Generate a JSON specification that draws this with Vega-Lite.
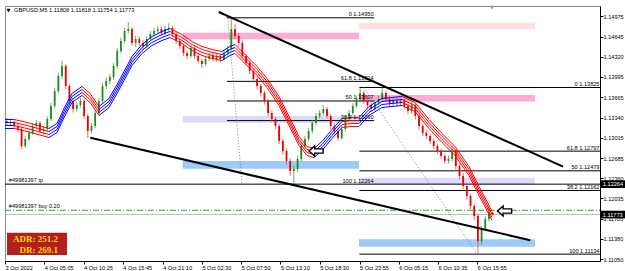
{
  "$schema": "https://vega.github.io/schema/vega-lite/v6.json",
  "width": 595,
  "height": 255,
  "padding": {"left": 3, "top": 5, "right": 0, "bottom": 0},
  "autosize": {"type": "pad"},
  "background": "white",
  "config": {"view": {"stroke": "#888888", "strokeWidth": 1}},
  "datasets": {
    "candles": [
      {"t":24,"o":1.1328,"h":1.1333,"l":1.132,"c":1.13252},
      {"t":24.5,"o":1.13252,"h":1.1332,"l":1.1321,"c":1.13268},
      {"t":25,"o":1.13268,"h":1.133,"l":1.1316,"c":1.13203},
      {"t":25.5,"o":1.13203,"h":1.1324,"l":1.131,"c":1.13155},
      {"t":26,"o":1.13155,"h":1.1319,"l":1.12832,"c":1.1288},
      {"t":26.5,"o":1.1288,"h":1.1304,"l":1.1285,"c":1.12993},
      {"t":27,"o":1.12993,"h":1.1313,"l":1.1296,"c":1.1309},
      {"t":27.5,"o":1.1309,"h":1.1325,"l":1.1306,"c":1.13203},
      {"t":28,"o":1.13203,"h":1.133,"l":1.1317,"c":1.13252},
      {"t":28.5,"o":1.13252,"h":1.1328,"l":1.1308,"c":1.13123},
      {"t":29,"o":1.13123,"h":1.132,"l":1.1306,"c":1.13155},
      {"t":29.5,"o":1.13155,"h":1.1336,"l":1.1312,"c":1.13316},
      {"t":30,"o":1.13316,"h":1.1358,"l":1.1328,"c":1.13526},
      {"t":30.5,"o":1.13526,"h":1.1382,"l":1.1349,"c":1.13769},
      {"t":31,"o":1.13769,"h":1.1406,"l":1.1373,"c":1.14011},
      {"t":31.5,"o":1.14011,"h":1.14253,"l":1.1396,"c":1.14172},
      {"t":32,"o":1.14172,"h":1.142,"l":1.138,"c":1.13849},
      {"t":32.5,"o":1.13849,"h":1.1388,"l":1.1356,"c":1.13607},
      {"t":33,"o":1.13607,"h":1.1365,"l":1.1342,"c":1.13478},
      {"t":33.5,"o":1.13478,"h":1.136,"l":1.1344,"c":1.13542},
      {"t":34,"o":1.13542,"h":1.1366,"l":1.135,"c":1.13607},
      {"t":34.5,"o":1.13607,"h":1.1364,"l":1.1332,"c":1.13365},
      {"t":35,"o":1.13365,"h":1.134,"l":1.13009,"c":1.13123},
      {"t":35.5,"o":1.13123,"h":1.1325,"l":1.1308,"c":1.13203},
      {"t":36,"o":1.13203,"h":1.1346,"l":1.1317,"c":1.13413},
      {"t":36.5,"o":1.13413,"h":1.1365,"l":1.1338,"c":1.13607},
      {"t":37,"o":1.13607,"h":1.139,"l":1.1357,"c":1.13849},
      {"t":37.5,"o":1.13849,"h":1.1399,"l":1.138,"c":1.1393},
      {"t":38,"o":1.1393,"h":1.1404,"l":1.1388,"c":1.13995},
      {"t":38.5,"o":1.13995,"h":1.1422,"l":1.1395,"c":1.14172},
      {"t":39,"o":1.14172,"h":1.1446,"l":1.1413,"c":1.14415},
      {"t":39.5,"o":1.14415,"h":1.1463,"l":1.1438,"c":1.14576},
      {"t":40,"o":1.14576,"h":1.1479,"l":1.1454,"c":1.14738},
      {"t":40.5,"o":1.14738,"h":1.14883,"l":1.147,"c":1.1477},
      {"t":41,"o":1.1477,"h":1.148,"l":1.145,"c":1.14544},
      {"t":41.5,"o":1.14544,"h":1.1466,"l":1.1448,"c":1.14608},
      {"t":42,"o":1.14608,"h":1.1465,"l":1.1449,"c":1.14544},
      {"t":42.5,"o":1.14544,"h":1.1459,"l":1.1444,"c":1.14495},
      {"t":43,"o":1.14495,"h":1.1465,"l":1.1446,"c":1.14608},
      {"t":43.5,"o":1.14608,"h":1.1474,"l":1.1457,"c":1.14689},
      {"t":44,"o":1.14689,"h":1.1479,"l":1.1465,"c":1.14738},
      {"t":44.5,"o":1.14738,"h":1.1482,"l":1.147,"c":1.1477},
      {"t":45,"o":1.1477,"h":1.1481,"l":1.1466,"c":1.14705},
      {"t":45.5,"o":1.14705,"h":1.1482,"l":1.1467,"c":1.1477},
      {"t":46,"o":1.1477,"h":1.14867,"l":1.1473,"c":1.14786},
      {"t":46.5,"o":1.14786,"h":1.1482,"l":1.1464,"c":1.14689},
      {"t":47,"o":1.14689,"h":1.1472,"l":1.1453,"c":1.14576},
      {"t":47.5,"o":1.14576,"h":1.1461,"l":1.1445,"c":1.14495},
      {"t":48,"o":1.14495,"h":1.1453,"l":1.1433,"c":1.14382},
      {"t":48.5,"o":1.14382,"h":1.1442,"l":1.1428,"c":1.14334},
      {"t":49,"o":1.14334,"h":1.1451,"l":1.143,"c":1.14463},
      {"t":49.5,"o":1.14463,"h":1.1449,"l":1.1429,"c":1.14334},
      {"t":50,"o":1.14334,"h":1.1437,"l":1.1421,"c":1.14253},
      {"t":50.5,"o":1.14253,"h":1.1429,"l":1.1414,"c":1.14205},
      {"t":51,"o":1.14205,"h":1.1433,"l":1.1417,"c":1.14285},
      {"t":51.5,"o":1.14285,"h":1.1438,"l":1.1425,"c":1.14334},
      {"t":52,"o":1.14334,"h":1.1437,"l":1.1424,"c":1.14285},
      {"t":52.5,"o":1.14285,"h":1.1438,"l":1.1424,"c":1.14334},
      {"t":53,"o":1.14334,"h":1.1437,"l":1.1423,"c":1.14285},
      {"t":53.5,"o":1.14285,"h":1.1443,"l":1.1425,"c":1.14382},
      {"t":54,"o":1.14382,"h":1.145,"l":1.1434,"c":1.14447},
      {"t":54.5,"o":1.14447,"h":1.1495,"l":1.1442,"c":1.1477},
      {"t":55,"o":1.1477,"h":1.1485,"l":1.146,"c":1.14657},
      {"t":55.5,"o":1.14657,"h":1.147,"l":1.1449,"c":1.14544},
      {"t":56,"o":1.14544,"h":1.1459,"l":1.1428,"c":1.14334},
      {"t":56.5,"o":1.14334,"h":1.1437,"l":1.1417,"c":1.14221},
      {"t":57,"o":1.14221,"h":1.1426,"l":1.1404,"c":1.14092},
      {"t":57.5,"o":1.14092,"h":1.1413,"l":1.1391,"c":1.13962},
      {"t":58,"o":1.13962,"h":1.14,"l":1.1379,"c":1.13849},
      {"t":58.5,"o":1.13849,"h":1.1388,"l":1.1368,"c":1.13736},
      {"t":59,"o":1.13736,"h":1.1377,"l":1.1355,"c":1.13607},
      {"t":59.5,"o":1.13607,"h":1.1364,"l":1.1336,"c":1.13413},
      {"t":60,"o":1.13413,"h":1.1346,"l":1.1326,"c":1.13316},
      {"t":60.5,"o":1.13316,"h":1.1335,"l":1.1315,"c":1.13203},
      {"t":61,"o":1.13203,"h":1.1324,"l":1.1291,"c":1.12961},
      {"t":61.5,"o":1.12961,"h":1.13,"l":1.1274,"c":1.128},
      {"t":62,"o":1.128,"h":1.1284,"l":1.1258,"c":1.12638},
      {"t":62.5,"o":1.12638,"h":1.1268,"l":1.124,"c":1.12477},
      {"t":63,"o":1.12477,"h":1.1256,"l":1.12264,"c":1.12509},
      {"t":63.5,"o":1.12509,"h":1.1272,"l":1.1246,"c":1.1267},
      {"t":64,"o":1.1267,"h":1.1293,"l":1.1263,"c":1.1288},
      {"t":64.5,"o":1.1288,"h":1.1304,"l":1.1284,"c":1.12993},
      {"t":65,"o":1.12993,"h":1.1317,"l":1.1295,"c":1.13123},
      {"t":65.5,"o":1.13123,"h":1.133,"l":1.1308,"c":1.13252},
      {"t":66,"o":1.13252,"h":1.1341,"l":1.1321,"c":1.13365},
      {"t":66.5,"o":1.13365,"h":1.1346,"l":1.1332,"c":1.13413},
      {"t":67,"o":1.13413,"h":1.13542,"l":1.1337,"c":1.13478},
      {"t":67.5,"o":1.13478,"h":1.1351,"l":1.1332,"c":1.13365},
      {"t":68,"o":1.13365,"h":1.134,"l":1.1315,"c":1.13203},
      {"t":68.5,"o":1.13203,"h":1.1325,"l":1.1307,"c":1.13123},
      {"t":69,"o":1.13123,"h":1.1316,"l":1.12961,"c":1.13009},
      {"t":69.5,"o":1.13009,"h":1.132,"l":1.1298,"c":1.13155},
      {"t":70,"o":1.13155,"h":1.1336,"l":1.1312,"c":1.13316},
      {"t":70.5,"o":1.13316,"h":1.1346,"l":1.1328,"c":1.13413},
      {"t":71,"o":1.13413,"h":1.1357,"l":1.1338,"c":1.13526},
      {"t":71.5,"o":1.13526,"h":1.1369,"l":1.1349,"c":1.13639},
      {"t":72,"o":1.13639,"h":1.13817,"l":1.136,"c":1.13736},
      {"t":72.5,"o":1.13736,"h":1.1377,"l":1.1356,"c":1.13607},
      {"t":73,"o":1.13607,"h":1.1365,"l":1.1349,"c":1.13542},
      {"t":73.5,"o":1.13542,"h":1.1358,"l":1.1343,"c":1.13478},
      {"t":74,"o":1.13478,"h":1.1362,"l":1.1344,"c":1.13575},
      {"t":74.5,"o":1.13575,"h":1.1369,"l":1.1354,"c":1.13639},
      {"t":75,"o":1.13639,"h":1.13825,"l":1.136,"c":1.13736},
      {"t":75.5,"o":1.13736,"h":1.1377,"l":1.1359,"c":1.13639},
      {"t":76,"o":1.13639,"h":1.1368,"l":1.1352,"c":1.13575},
      {"t":76.5,"o":1.13575,"h":1.1365,"l":1.1353,"c":1.13607},
      {"t":77,"o":1.13607,"h":1.1365,"l":1.1352,"c":1.13575},
      {"t":77.5,"o":1.13575,"h":1.1365,"l":1.1353,"c":1.13607},
      {"t":78,"o":1.13607,"h":1.1364,"l":1.1347,"c":1.13526},
      {"t":78.5,"o":1.13526,"h":1.1356,"l":1.1339,"c":1.13446},
      {"t":79,"o":1.13446,"h":1.13607,"l":1.134,"c":1.13542},
      {"t":79.5,"o":1.13542,"h":1.1357,"l":1.1331,"c":1.13365},
      {"t":80,"o":1.13365,"h":1.134,"l":1.1315,"c":1.13203},
      {"t":80.5,"o":1.13203,"h":1.1324,"l":1.1304,"c":1.1309},
      {"t":81,"o":1.1309,"h":1.1313,"l":1.1299,"c":1.13042},
      {"t":81.5,"o":1.13042,"h":1.1308,"l":1.1291,"c":1.12961},
      {"t":82,"o":1.12961,"h":1.13,"l":1.1283,"c":1.1288},
      {"t":82.5,"o":1.1288,"h":1.1292,"l":1.1275,"c":1.128},
      {"t":83,"o":1.128,"h":1.1284,"l":1.1267,"c":1.12719},
      {"t":83.5,"o":1.12719,"h":1.1276,"l":1.1259,"c":1.12638},
      {"t":84,"o":1.12638,"h":1.1272,"l":1.126,"c":1.1267},
      {"t":84.5,"o":1.1267,"h":1.1288,"l":1.1263,"c":1.128},
      {"t":85,"o":1.128,"h":1.1283,"l":1.125,"c":1.12557},
      {"t":85.5,"o":1.12557,"h":1.126,"l":1.1234,"c":1.12396},
      {"t":86,"o":1.12396,"h":1.1244,"l":1.1218,"c":1.12234},
      {"t":86.5,"o":1.12234,"h":1.1227,"l":1.1201,"c":1.12073},
      {"t":87,"o":1.12073,"h":1.1211,"l":1.1186,"c":1.11911},
      {"t":87.5,"o":1.11911,"h":1.1195,"l":1.1169,"c":1.1175},
      {"t":88,"o":1.1175,"h":1.1179,"l":1.11134,"c":1.11346},
      {"t":88.5,"o":1.11346,"h":1.1159,"l":1.1129,"c":1.1154},
      {"t":89,"o":1.1154,"h":1.1175,"l":1.115,"c":1.11701},
      {"t":89.5,"o":1.11701,"h":1.1188,"l":1.1166,"c":1.11808},
      {"t":90,"o":1.11808,"h":1.11818,"l":1.11754,"c":1.11773}
    ],
    "ma": [
      {"t":23.75,"v":1.13236,"seg":1,"trend":"up"},{"t":24.97,"v":1.13236,"seg":1,"trend":"up"},
      {"t":24.97,"v":1.13236,"seg":2,"trend":"down"},{"t":26.74,"v":1.13187,"seg":2,"trend":"down"},{"t":29.73,"v":1.1309,"seg":2,"trend":"down"},
      {"t":29.73,"v":1.1309,"seg":3,"trend":"up"},{"t":30.82,"v":1.13171,"seg":3,"trend":"up"},{"t":31.77,"v":1.13413,"seg":3,"trend":"up"},{"t":32.85,"v":1.13656,"seg":3,"trend":"up"},{"t":34.21,"v":1.13769,"seg":3,"trend":"up"},
      {"t":34.21,"v":1.13769,"seg":4,"trend":"down"},{"t":35.3,"v":1.13656,"seg":4,"trend":"down"},{"t":36.52,"v":1.13446,"seg":4,"trend":"down"},
      {"t":36.52,"v":1.13446,"seg":5,"trend":"up"},{"t":37.88,"v":1.13575,"seg":5,"trend":"up"},{"t":38.97,"v":1.13801,"seg":5,"trend":"up"},{"t":39.92,"v":1.14011,"seg":5,"trend":"up"},{"t":41.01,"v":1.14253,"seg":5,"trend":"up"},{"t":42.36,"v":1.14447,"seg":5,"trend":"up"},{"t":43.72,"v":1.14576,"seg":5,"trend":"up"},{"t":45.08,"v":1.14657,"seg":5,"trend":"up"},{"t":46.17,"v":1.14705,"seg":5,"trend":"up"},
      {"t":46.17,"v":1.14705,"seg":6,"trend":"down"},{"t":47.8,"v":1.14608,"seg":6,"trend":"down"},{"t":49.16,"v":1.14495,"seg":6,"trend":"down"},{"t":50.52,"v":1.14415,"seg":6,"trend":"down"},{"t":51.88,"v":1.14366,"seg":6,"trend":"down"},{"t":53.23,"v":1.14334,"seg":6,"trend":"down"},
      {"t":53.23,"v":1.14334,"seg":7,"trend":"up"},{"t":54.32,"v":1.14415,"seg":7,"trend":"up"},{"t":55.0,"v":1.14447,"seg":7,"trend":"up"},
      {"t":55.0,"v":1.14447,"seg":8,"trend":"down"},{"t":56.63,"v":1.14253,"seg":8,"trend":"down"},{"t":57.99,"v":1.14092,"seg":8,"trend":"down"},{"t":59.35,"v":1.13898,"seg":8,"trend":"down"},{"t":60.98,"v":1.13607,"seg":8,"trend":"down"},{"t":62.34,"v":1.13284,"seg":8,"trend":"down"},{"t":63.7,"v":1.12961,"seg":8,"trend":"down"},{"t":64.78,"v":1.128,"seg":8,"trend":"down"},{"t":65.73,"v":1.12767,"seg":8,"trend":"down"},
      {"t":65.73,"v":1.12767,"seg":9,"trend":"up"},{"t":66.82,"v":1.1288,"seg":9,"trend":"up"},{"t":68.18,"v":1.13074,"seg":9,"trend":"up"},{"t":69.54,"v":1.13252,"seg":9,"trend":"up"},
      {"t":69.54,"v":1.13252,"seg":10,"trend":"down"},{"t":70.9,"v":1.13268,"seg":10,"trend":"down"},{"t":71.85,"v":1.13268,"seg":10,"trend":"down"},
      {"t":71.85,"v":1.13268,"seg":11,"trend":"up"},{"t":73.21,"v":1.13446,"seg":11,"trend":"up"},{"t":74.97,"v":1.13575,"seg":11,"trend":"up"},{"t":77.69,"v":1.13607,"seg":11,"trend":"up"},
      {"t":77.69,"v":1.13607,"seg":12,"trend":"down"},{"t":79.46,"v":1.1351,"seg":12,"trend":"down"},{"t":81.36,"v":1.13236,"seg":12,"trend":"down"},{"t":83.13,"v":1.13009,"seg":12,"trend":"down"},{"t":84.89,"v":1.128,"seg":12,"trend":"down"},{"t":86.79,"v":1.12477,"seg":12,"trend":"down"},{"t":88.15,"v":1.12154,"seg":12,"trend":"down"},{"t":89.24,"v":1.11911,"seg":12,"trend":"down"},{"t":89.92,"v":1.1175,"seg":12,"trend":"down"}
    ]
  },
  "encoding": {
    "x": {"field": "t", "type": "quantitative",
      "scale": {"domain": [23.75, 104.59], "nice": false, "zero": false},
      "axis": {"title": null, "grid": false,
        "values": [23.75, 29.083333, 34.416667, 39.75, 45.166667, 50.5, 55.833333, 61.166667, 66.5, 71.916667, 77.25, 82.583333, 87.916667],
        "labelExpr": "datum.value < 24 ? '3 Oct 2022' : utcFormat(utc(2022,9,3) + round(datum.value*60)*60000, '%-d %b %H:%M')",
        "labelAlign": "left", "labelFont": "Liberation Sans", "labelFontSize": 5.6, "labelColor": "#000000",
        "tickSize": 3, "tickColor": "#000000", "domainColor": "#000000", "labelPadding": 1, "labelOverlap": false, "labelFlush": false}},
    "y": {"field": "v", "type": "quantitative",
      "scale": {"domain": [1.11023, 1.15141], "nice": false, "zero": false},
      "axis": {"title": null, "orient": "right", "grid": false,
        "values": [1.14975, 1.14645, 1.1432, 1.13995, 1.13665, 1.1334, 1.13015, 1.12685, 1.1236, 1.12035, 1.11705, 1.1138, 1.1105],
        "format": ".5f", "labelFont": "Liberation Sans", "labelFontSize": 5.6, "labelColor": "#000000",
        "tickSize": 3, "tickColor": "#000000", "domainColor": "#000000", "labelPadding": 0, "labelOverlap": false, "labelFlush": false, "labelBaseline": "middle"}}
  },
  "layer": [
    {
      "data": {"values": [
        {"t":47.9,"t2":71.85,"v":1.14603,"v2":1.1471,"kind":"pink"},
        {"t":71.85,"t2":95.76,"v":1.14765,"v2":1.14872,"kind":"lightpink"},
        {"t":71.85,"t2":95.76,"v":1.13599,"v2":1.13704,"kind":"pink"},
        {"t":47.9,"t2":71.85,"v":1.13257,"v2":1.13365,"kind":"lavender"},
        {"t":47.9,"t2":71.85,"v":1.12514,"v2":1.12638,"kind":"lightblue"},
        {"t":71.85,"t2":95.76,"v":1.12262,"v2":1.12368,"kind":"lavender"},
        {"t":71.85,"t2":95.76,"v":1.11254,"v2":1.11374,"kind":"lightblue"}
      ]},
      "mark": {"type": "rect"},
      "encoding": {
        "x2": {"field": "t2"}, "y2": {"field": "v2"},
        "fill": {"field": "kind", "type": "nominal", "legend": null,
          "scale": {"domain": ["pink", "lightpink", "lavender", "lightblue"], "range": ["#FFAAD4", "#FFDFE0", "#DCDCF8", "#9CCBF8"]}}
      }
    },
    {
      "data": {"values": [
        {"t":53.91,"t2":73.89,"v":1.1495},
        {"t":53.91,"t2":73.89,"v":1.13924},
        {"t":53.91,"t2":73.89,"v":1.13607},
        {"t":53.91,"t2":73.89,"v":1.1329},
        {"t":71.9,"t2":104.59,"v":1.13825},
        {"t":71.9,"t2":104.59,"v":1.12797},
        {"t":71.9,"t2":104.59,"v":1.12479},
        {"t":71.9,"t2":104.59,"v":1.12162},
        {"t":71.9,"t2":104.59,"v":1.11134},
        {"t":23.75,"t2":104.59,"v":1.12264}
      ]},
      "mark": {"type": "rule", "color": "#000000", "strokeWidth": 1},
      "encoding": {"x2": {"field": "t2"}}
    },
    {
      "data": {"values": [{"t":23.75,"t2":104.59,"v":1.11773}]},
      "mark": {"type": "rule", "color": "#BDBDBD", "strokeWidth": 1},
      "encoding": {"x2": {"field": "t2"}}
    },
    {
      "data": {"values": [{"t":23.75,"t2":104.59,"v":1.11842}]},
      "mark": {"type": "rule", "color": "#3C9A3C", "strokeWidth": 1, "strokeDash": [6, 2, 1, 2]},
      "encoding": {"x2": {"field": "t2"}}
    },
    {
      "data": {"values": [
        {"t":54.01,"v":1.14952,"t2":55.95,"v2":1.12273},
        {"t":72.53,"v":1.13825,"t2":87.88,"v2":1.11136}
      ]},
      "mark": {"type": "rule", "color": "#808080", "strokeWidth": 1, "strokeDash": [1, 2]},
      "encoding": {"x2": {"field": "t2"}, "y2": {"field": "v2"}}
    },
    {
      "data": {"name": "candles"},
      "mark": {"type": "rule", "strokeWidth": 1, "opacity": 0.75},
      "encoding": {
        "y": {"field": "l", "type": "quantitative", "scale": {"domain": [1.11023, 1.15141], "nice": false, "zero": false}},
        "y2": {"field": "h"},
        "stroke": {"condition": {"test": "datum.c >= datum.o", "value": "#2E9B2E"}, "value": "#F43A3A"}
      }
    },
    {
      "data": {"name": "candles"},
      "mark": {"type": "rule", "strokeWidth": 1.8},
      "encoding": {
        "y": {"field": "o", "type": "quantitative", "scale": {"domain": [1.11023, 1.15141], "nice": false, "zero": false}},
        "y2": {"field": "c"},
        "stroke": {"condition": {"test": "datum.c >= datum.o", "value": "#1E8C1E"}, "value": "#E80000"}
      }
    },
    {
      "data": {"name": "ma"},
      "mark": {"type": "line", "strokeWidth": 1, "yOffset": -4.5},
      "encoding": {"detail": {"field": "seg", "type": "nominal"},
        "stroke": {"field": "trend", "type": "nominal", "legend": null, "scale": {"domain": ["up", "down"], "range": ["#0000FF", "#FF0000"]}}}
    },
    {
      "data": {"name": "ma"},
      "mark": {"type": "line", "strokeWidth": 1, "yOffset": -1.5},
      "encoding": {"detail": {"field": "seg", "type": "nominal"},
        "stroke": {"field": "trend", "type": "nominal", "legend": null, "scale": {"domain": ["up", "down"], "range": ["#0000FF", "#FF0000"]}}}
    },
    {
      "data": {"name": "ma"},
      "mark": {"type": "line", "strokeWidth": 1, "yOffset": 1.5},
      "encoding": {"detail": {"field": "seg", "type": "nominal"},
        "stroke": {"field": "trend", "type": "nominal", "legend": null, "scale": {"domain": ["up", "down"], "range": ["#0000FF", "#FF0000"]}}}
    },
    {
      "data": {"name": "ma"},
      "mark": {"type": "line", "strokeWidth": 1, "yOffset": 4.5},
      "encoding": {"detail": {"field": "seg", "type": "nominal"},
        "stroke": {"field": "trend", "type": "nominal", "legend": null, "scale": {"domain": ["up", "down"], "range": ["#0000FF", "#FF0000"]}}}
    },
    {
      "data": {"values": [
        {"t":52.79,"v":1.15044,"t2":99.57,"v2":1.12546},
        {"t":35.34,"v":1.13014,"t2":95.12,"v2":1.11357}
      ]},
      "mark": {"type": "rule", "color": "#000000", "strokeWidth": 2},
      "encoding": {"x2": {"field": "t2"}, "y2": {"field": "v2"}}
    },
    {
      "data": {"values": [
        {"t":73.82,"v":1.1495,"label":"0  1.14950"},
        {"t":73.82,"v":1.13924,"label":"61.8  1.13924"},
        {"t":73.82,"v":1.13607,"label":"50  1.13607"},
        {"t":73.82,"v":1.1329,"label":"38.2  1.13290"},
        {"t":73.82,"v":1.12264,"label":"100  1.12264"},
        {"t":104.52,"v":1.13825,"label":"0  1.13825"},
        {"t":104.52,"v":1.12797,"label":"61.8  1.12797"},
        {"t":104.52,"v":1.12479,"label":"50  1.12479"},
        {"t":104.52,"v":1.12162,"label":"38.2  1.12162"},
        {"t":104.52,"v":1.11134,"label":"100  1.11134"}
      ]},
      "mark": {"type": "text", "align": "right", "baseline": "alphabetic", "dy": -1.5, "font": "Liberation Sans", "fontSize": 5.6, "color": "#000000"},
      "encoding": {"text": {"field": "label"}}
    },
    {
      "data": {"values": [
        {"t":24.27,"v":1.12264,"label":"#49981397 tp"},
        {"t":24.27,"v":1.11842,"label":"#49981397 buy 0.20"}
      ]},
      "mark": {"type": "text", "align": "left", "baseline": "alphabetic", "dy": -2, "font": "Liberation Sans", "fontSize": 5.6, "color": "#000000"},
      "encoding": {"text": {"field": "label"}}
    },
    {
      "data": {"values": [
        {"t":24.97,"v":1.15081,"label":"GBPUSD,M5  1.11808 1.11818 1.11754 1.11773"}
      ]},
      "mark": {"type": "text", "align": "left", "baseline": "middle", "font": "Liberation Sans", "fontSize": 5.7, "color": "#000000"},
      "encoding": {"text": {"field": "label"}}
    },
    {
      "data": {"values": [
        {"t":24.23,"v":1.15081,"label":"▼"}
      ]},
      "mark": {"type": "text", "align": "center", "baseline": "middle", "font": "DejaVu Sans", "fontSize": 5, "color": "#000000"},
      "encoding": {"text": {"field": "label"}}
    },
    {
      "data": {"values": [
        {"t":89.92,"v":1.15118,"label":"▼"}
      ]},
      "mark": {"type": "text", "align": "center", "baseline": "middle", "font": "DejaVu Sans", "fontSize": 5, "color": "#909090"},
      "encoding": {"text": {"field": "label"}}
    },
    {
      "data": {"values": [
        {"t":66.01,"v":1.128},
        {"t":91.62,"v":1.11831}
      ]},
      "mark": {"type": "point", "shape": "M -1 0 L -0.2 -0.7 L -0.2 -0.3 L 1 -0.3 L 1 0.3 L -0.2 0.3 L -0.2 0.7 Z", "size": 200, "filled": true, "fill": "#FFFFFF", "stroke": "#000000", "strokeWidth": 1.4, "opacity": 1}
    },
    {
      "data": {"values": [{"t":24.02,"t2":32.17,"v":1.1112,"v2":1.1148}]},
      "mark": {"type": "rect", "color": "#B0201F"},
      "encoding": {"x2": {"field": "t2"}, "y2": {"field": "v2"}}
    },
    {
      "data": {"values": [
        {"t":30.95,"v":1.11378,"label":"ADR: 251.2"},
        {"t":30.95,"v":1.11201,"label":"DR: 269.1"}
      ]},
      "mark": {"type": "text", "align": "right", "baseline": "middle", "font": "Liberation Serif", "fontSize": 9, "fontWeight": "bold", "color": "#FFD700"},
      "encoding": {"text": {"field": "label"}}
    },
    {
      "data": {"values": [
        {"t":104.62,"t2":108.4,"v":1.12202,"v2":1.12326},
        {"t":104.62,"t2":108.4,"v":1.11711,"v2":1.11835}
      ]},
      "mark": {"type": "rect", "color": "#000000"},
      "encoding": {"x2": {"field": "t2"}, "y2": {"field": "v2"}}
    },
    {
      "data": {"values": [
        {"t":104.98,"v":1.12264,"label":"1.12264"},
        {"t":104.98,"v":1.11773,"label":"1.11773"}
      ]},
      "mark": {"type": "text", "align": "left", "baseline": "middle", "font": "Liberation Sans", "fontSize": 5.6, "color": "#FFFFFF"},
      "encoding": {"text": {"field": "label"}}
    }
  ]
}
